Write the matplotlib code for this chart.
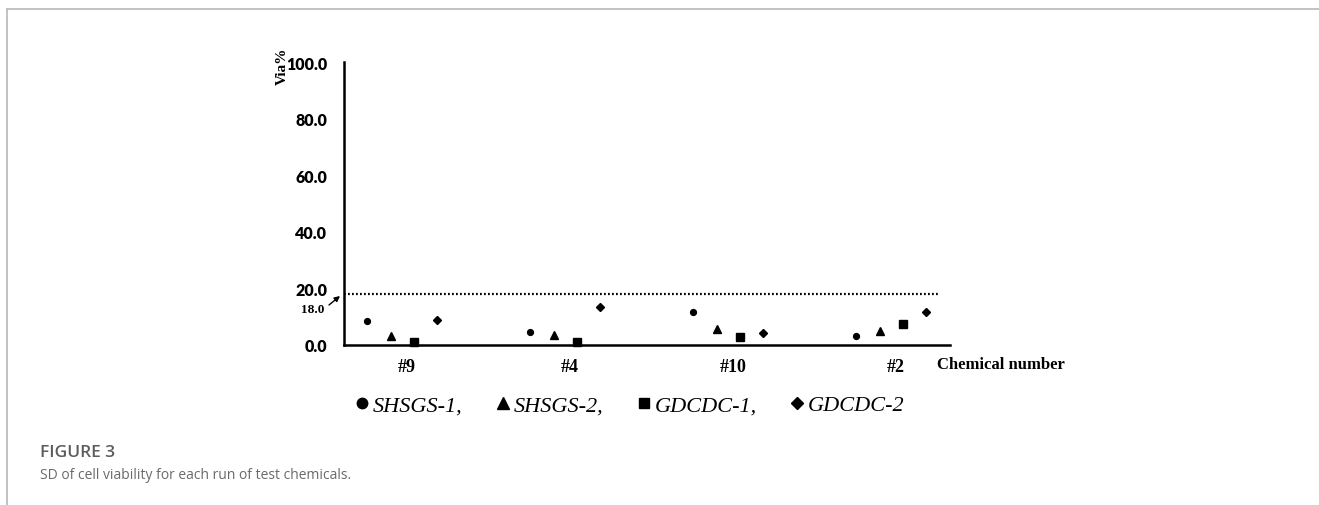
import matplotlib.pyplot as plt
from matplotlib.lines import Line2D

# SD of cell viability (%) for each run, by test chemical
chemicals = ["#9", "#4", "#10", "#2"]
shsgs_1 = [8.5, 4.6, 11.7, 3.2]
shsgs_2 = [3.2, 3.5, 5.7, 4.9]
gdcdc_1 = [1.1, 1.1, 2.8, 7.4]
gdcdc_2 = [8.8, 13.4, 4.2, 11.7]
run_names = ["SHSGS-1,", "SHSGS-2,", "GDCDC-1,", "GDCDC-2"]
threshold = 18.0

W, H = 1319, 506
fig = plt.figure(figsize=(W / 100, H / 100), dpi=100)


def fx(px):
    return px / W


def fy(py):
    return 1 - py / H


# thin grey frame on the top and left edge of the panel
fig.add_artist(Line2D([fx(7), fx(7)], [fy(10), 0], color="#bdbdbd", lw=1.3))
fig.add_artist(Line2D([fx(7), 1], [fy(10), fy(10)], color="#bdbdbd", lw=1.3))

ax = fig.add_axes([fx(344), fy(346), fx(950) - fx(344), (346 - 63) / H])

series = [shsgs_1, shsgs_2, gdcdc_1, gdcdc_2]
markers = ["o", "^", "s", "D"]
sizes = [4.2, 5.8, 5.5, 4.4]
legend_sizes = [7.5, 8.5, 7.0, 6.2]
offsets = [-0.215, -0.07, 0.075, 0.215]
xs = range(len(chemicals))
handles = []
for vals, m, s, ls, off, name in zip(series, markers, sizes, legend_sizes,
                                     offsets, run_names):
    ax.plot([x + off for x in xs], vals, linestyle="none", marker=m,
            markersize=s, color="black", clip_on=False, zorder=5)
    handles.append(Line2D([], [], linestyle="none", marker=m, markersize=ls,
                          color="black", label=name))

# 18% cut-off line
ax.plot([-0.356, 3.30], [threshold, threshold], color="black", lw=1.6,
        linestyle=(0, (0.8, 1.0)), clip_on=False)

ax.set_xlim(-0.356, 3.362)
ax.set_ylim(0, 100)
ax.set_yticks([0, 20, 40, 60, 80, 100])
ax.set_yticklabels([f"{v:.1f}" for v in [0, 20, 40, 60, 80, 100]],
                   fontfamily="Lato", fontweight="heavy", fontsize=11.5)
ax.set_xticks([x + 0.03 for x in xs])
ax.set_xticklabels(chemicals, fontfamily="Liberation Serif", fontweight="bold",
                   fontsize=13)
ax.tick_params(axis="y", length=0, pad=12)
ax.tick_params(axis="x", length=0, pad=9)
for side in ["top", "right"]:
    ax.spines[side].set_visible(False)
for side in ["left", "bottom"]:
    ax.spines[side].set_linewidth(1.8)

fig.text(fx(282), fy(66), "Via%", rotation=90, ha="center", va="center",
         fontfamily="Liberation Serif", fontweight="bold", fontsize=11)
fig.text(fx(937), fy(365), "Chemical number", ha="left", va="center",
         fontfamily="Liberation Serif", fontweight="bold", fontsize=12)
fig.text(fx(313), fy(310), "18.0", ha="center", va="center",
         fontfamily="Liberation Serif", fontweight="bold", fontsize=9.5)
ax.annotate("", xy=(fx(340), fy(297)), xytext=(fx(329), fy(306)),
            xycoords="figure fraction", textcoords="figure fraction",
            arrowprops=dict(arrowstyle="-|>", color="black", lw=1.0,
                            mutation_scale=8, shrinkA=0, shrinkB=0))

fig.legend(handles=handles, loc="center", bbox_to_anchor=(fx(630), fy(406)),
           ncol=4, frameon=False, handlelength=0.6, handletextpad=0.2,
           columnspacing=1.5, borderaxespad=0,
           prop={"family": "Liberation Serif", "style": "italic", "size": 16})

fig.text(fx(40), fy(453), "FIGURE 3", ha="left", va="center",
         fontfamily="Open Sans", fontweight="semibold", fontsize=12.5,
         color="#5c5c5c")
fig.text(fx(40), fy(476), "SD of cell viability for each run of test chemicals.",
         ha="left", va="center", fontfamily="Open Sans", fontsize=10,
         color="#6a6a6a")

fig.savefig("out.png", dpi=100)
